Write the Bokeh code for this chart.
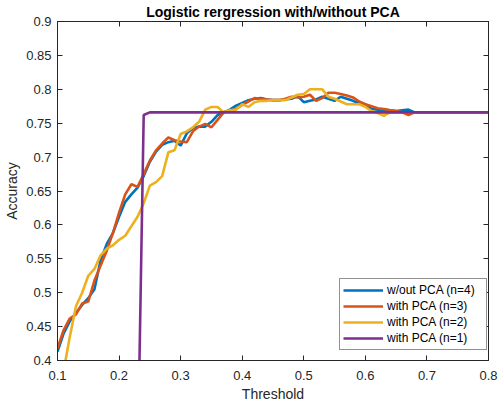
from bokeh.plotting import figure
from bokeh.models import Range1d, LinearAxis, FixedTicker, Legend, LegendItem
from bokeh.embed import file_html
from bokeh.resources import INLINE

# ---------------- data ----------------
threshold = [round(0.10 + 0.01 * i, 2) for i in range(71)]

tail = [0.766] * 12  # 0.69 .. 0.80

acc_n4 = [0.413, 0.440, 0.458, 0.470, 0.482, 0.492, 0.505, 0.548, 0.572, 0.588,
          0.612, 0.634, 0.645, 0.655, 0.672, 0.693, 0.708, 0.718, 0.722, 0.724,
          0.717, 0.735, 0.743, 0.745, 0.745, 0.752, 0.762, 0.766, 0.770, 0.776,
          0.780, 0.784, 0.786, 0.787, 0.785, 0.784, 0.784, 0.785, 0.786, 0.790,
          0.781, 0.783, 0.785, 0.789, 0.786, 0.783, 0.789, 0.786, 0.783, 0.779,
          0.778, 0.771, 0.770, 0.770, 0.769, 0.768, 0.769, 0.770, 0.766] + tail

acc_n3 = [0.418, 0.445, 0.462, 0.468, 0.484, 0.487, 0.518, 0.540, 0.562, 0.588,
          0.618, 0.645, 0.660, 0.656, 0.675, 0.695, 0.710, 0.720, 0.729, 0.725,
          0.723, 0.722, 0.738, 0.745, 0.749, 0.744, 0.755, 0.766, 0.768, 0.771,
          0.777, 0.782, 0.787, 0.786, 0.785, 0.784, 0.784, 0.786, 0.789, 0.788,
          0.789, 0.792, 0.783, 0.787, 0.795, 0.795, 0.793, 0.791, 0.788, 0.782,
          0.778, 0.775, 0.772, 0.771, 0.769, 0.768, 0.766, 0.762, 0.766] + tail

acc_n2 = [0.345, 0.385, 0.435, 0.480, 0.500, 0.525, 0.535, 0.555, 0.565, 0.570,
          0.578, 0.584, 0.598, 0.612, 0.632, 0.658, 0.663, 0.672, 0.707, 0.710,
          0.734, 0.738, 0.744, 0.752, 0.770, 0.774, 0.774, 0.766, 0.769, 0.770,
          0.778, 0.774, 0.781, 0.783, 0.783, 0.784, 0.784, 0.784, 0.788, 0.792,
          0.793, 0.800, 0.800, 0.800, 0.789, 0.786, 0.782, 0.778, 0.778, 0.778,
          0.774, 0.768, 0.765, 0.761, 0.766, 0.766, 0.766, 0.766, 0.766] + tail

acc_n1 = [0.234] * 14 + [0.762] + [0.766] * 56

series_labels = ["w/out PCA (n=4)", "with PCA (n=3)", "with PCA (n=2)", "with PCA (n=1)"]
series_colors = ["#0072BD", "#D95319", "#EDB120", "#7E2F8E"]

x_ticks = [0.1, 0.2, 0.3, 0.4, 0.5, 0.6, 0.7, 0.8]
x_tick_labels = ["0.1", "0.2", "0.3", "0.4", "0.5", "0.6", "0.7", "0.8"]
y_ticks = [0.4, 0.45, 0.5, 0.55, 0.6, 0.65, 0.7, 0.75, 0.8, 0.85, 0.9]
y_tick_labels = ["0.4", "0.45", "0.5", "0.55", "0.6", "0.65", "0.7", "0.75", "0.8", "0.85", "0.9"]

# ---------------- figure ----------------
FONT = "Liberation Sans"
AX = "#262626"

p = figure(width=498, height=405, output_backend="svg", toolbar_location=None,
           x_range=Range1d(0.1, 0.8), y_range=Range1d(0.4, 0.9),
           min_border_left=57, min_border_right=10, min_border_top=20, min_border_bottom=45,
           title="Logistic rergression with/without PCA")
p.background_fill_color = "white"
p.border_fill_color = "white"
p.outline_line_color = AX
p.outline_line_width = 1
p.grid.visible = False

p.title.align = "center"
p.title.text_font = FONT
p.title.text_font_size = "14px"
p.title.text_font_style = "bold"
p.title.text_color = "black"
p.title.standoff = 3
p.title.offset = 0

def style_axis(ax, ticks, labels, show_labels=True):
    ax.ticker = FixedTicker(ticks=ticks)
    ax.major_tick_in = 5
    ax.major_tick_out = 0
    ax.minor_tick_line_color = None
    ax.axis_line_color = AX
    ax.major_tick_line_color = AX
    ax.major_label_text_font = FONT
    ax.major_label_text_font_size = "13px"
    ax.major_label_text_color = AX
    if show_labels:
        ax.major_label_overrides = {t: l for t, l in zip(ticks, labels)}
    else:
        ax.major_label_overrides = {t: "" for t in ticks}
        ax.major_label_text_font_size = "0px"
        ax.major_label_standoff = 0

xa = p.xaxis[0]
ya = p.yaxis[0]
style_axis(xa, x_ticks, x_tick_labels)
style_axis(ya, y_ticks, y_tick_labels)
xa.major_label_standoff = 10
ya.major_label_standoff = 6
xa.axis_label = "Threshold"
ya.axis_label = "Accuracy"
for a in (xa, ya):
    a.axis_label_text_font = FONT
    a.axis_label_text_font_size = "14px"
    a.axis_label_text_font_style = "normal"
    a.axis_label_text_color = AX
xa.axis_label_standoff = 3
ya.axis_label_standoff = 3

top_ax = LinearAxis()
right_ax = LinearAxis()
style_axis(top_ax, x_ticks, x_tick_labels, show_labels=False)
style_axis(right_ax, y_ticks, y_tick_labels, show_labels=False)
p.add_layout(top_ax, "above")
p.add_layout(right_ax, "right")

renderers = []
for ys, col in zip([acc_n4, acc_n3, acc_n2, acc_n1], series_colors):
    r = p.line(threshold, ys, line_color=col, line_width=2.6)
    renderers.append(r)

legend = Legend(items=[LegendItem(label=l, renderers=[r]) for l, r in zip(series_labels, renderers)],
                location=(282, 10))
legend.label_text_font = FONT
legend.label_text_font_size = "12px"
legend.label_text_color = "black"
legend.border_line_color = AX
legend.border_line_width = 1
legend.background_fill_color = "white"
legend.background_fill_alpha = 1
legend.padding = 3
legend.margin = 0
legend.spacing = 0
legend.glyph_width = 40
legend.glyph_height = 16
legend.label_height = 16
legend.label_width = 96
legend.label_standoff = 4
p.add_layout(legend, "center")

open("out.html", "w").write(file_html(p, INLINE))
